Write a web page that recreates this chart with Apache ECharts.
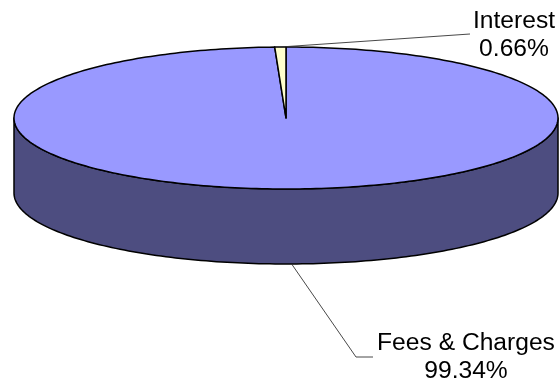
<!DOCTYPE html>
<html>
<head>
<meta charset="utf-8">
<script src="https://cdn.jsdelivr.net/npm/echarts@6/dist/echarts.min.js"></script>
<style>
  html, body { margin: 0; padding: 0; background: #fff; }
  #chart { width: 560px; height: 385px; }
</style>
</head>
<body>
<div id="chart"></div>
<script>
// Revenue split
const categories = ['Fees & Charges', 'Interest'];
const values = [99.34, 0.66];
const sliceColors = ['#9999FF', '#FFFFCC'];
const sideColors = ['#4D4D80', '#80805F'];

// Cylinder geometry (pixels)
const CX = 286, CY = 118, RX = 272, RY = 71, DEPTH = 75;
// Label anchors and leader elbows
const labelLayout = [
  { text: [466, 330], elbow: [356, 357], end: [373, 357] },
  { text: [514, 8], elbow: null, end: [470, 34] }
];
const FONT = '23px "Liberation Sans", Arial, sans-serif';

const total = values.reduce((a, b) => a + b, 0);
const starts = [];
let acc = 0;
values.forEach(v => { starts.push(acc / total * Math.PI * 2); acc += v; });

// t measured clockwise from 12 o'clock
function pt(t, dy) {
  return [CX + RX * Math.sin(t), CY - RY * Math.cos(t) + (dy || 0)];
}
function arc(a0, a1, dy) {
  const n = Math.max(2, Math.ceil((a1 - a0) / 0.02));
  const out = [];
  for (let i = 0; i <= n; i++) out.push(pt(a0 + (a1 - a0) * i / n, dy));
  return out;
}

function renderItem(params, api) {
  const i = params.dataIndex;
  const v = api.value(0);
  const a0 = starts[i];
  const a1 = a0 + v / total * Math.PI * 2;
  const children = [];

  // front wall
  const s0 = Math.max(a0, Math.PI / 2), s1 = Math.min(a1, Math.PI * 3 / 2);
  if (s1 > s0) {
    const pts = arc(s0, s1, 0).concat(arc(s0, s1, DEPTH).reverse());
    children.push({
      type: 'polygon',
      shape: { points: pts },
      style: { fill: sideColors[i], stroke: '#000', lineWidth: 1.5, lineJoin: 'round' }
    });
  }
  // top face
  children.push({
    type: 'polygon',
    shape: { points: [[CX, CY]].concat(arc(a0, a1, 0)) },
    style: { fill: sliceColors[i], stroke: '#000', lineWidth: 1.5, lineJoin: 'round' }
  });

  // leader line + label
  const mid = (a0 + a1) / 2;
  const front = Math.cos(mid) < 0;
  const anchor = pt(mid, front ? DEPTH : 0);
  const L = labelLayout[i];
  const linePts = [anchor];
  if (L.elbow) linePts.push(L.elbow);
  linePts.push(L.end);
  children.push({
    type: 'polyline',
    shape: { points: linePts },
    style: { stroke: '#333', lineWidth: 0.9, fill: null }
  });
  const pct = (v / total * 100).toFixed(2) + '%';
  children.push({
    type: 'text',
    x: L.text[0], y: L.text[1],
    scaleX: 1.07,
    style: {
      text: categories[i] + '\n' + pct,
      font: FONT,
      fill: '#000',
      align: 'center',
      verticalAlign: 'top',
      lineHeight: 28
    }
  });
  return { type: 'group', children };
}

const chart = echarts.init(document.getElementById('chart'), null, { renderer: 'canvas' });
chart.setOption({
  animation: false,
  backgroundColor: '#fff',
  series: [{
    type: 'custom',
    coordinateSystem: 'none',
    renderItem,
    data: values.map(v => [v])
  }]
});
</script>
</body>
</html>
